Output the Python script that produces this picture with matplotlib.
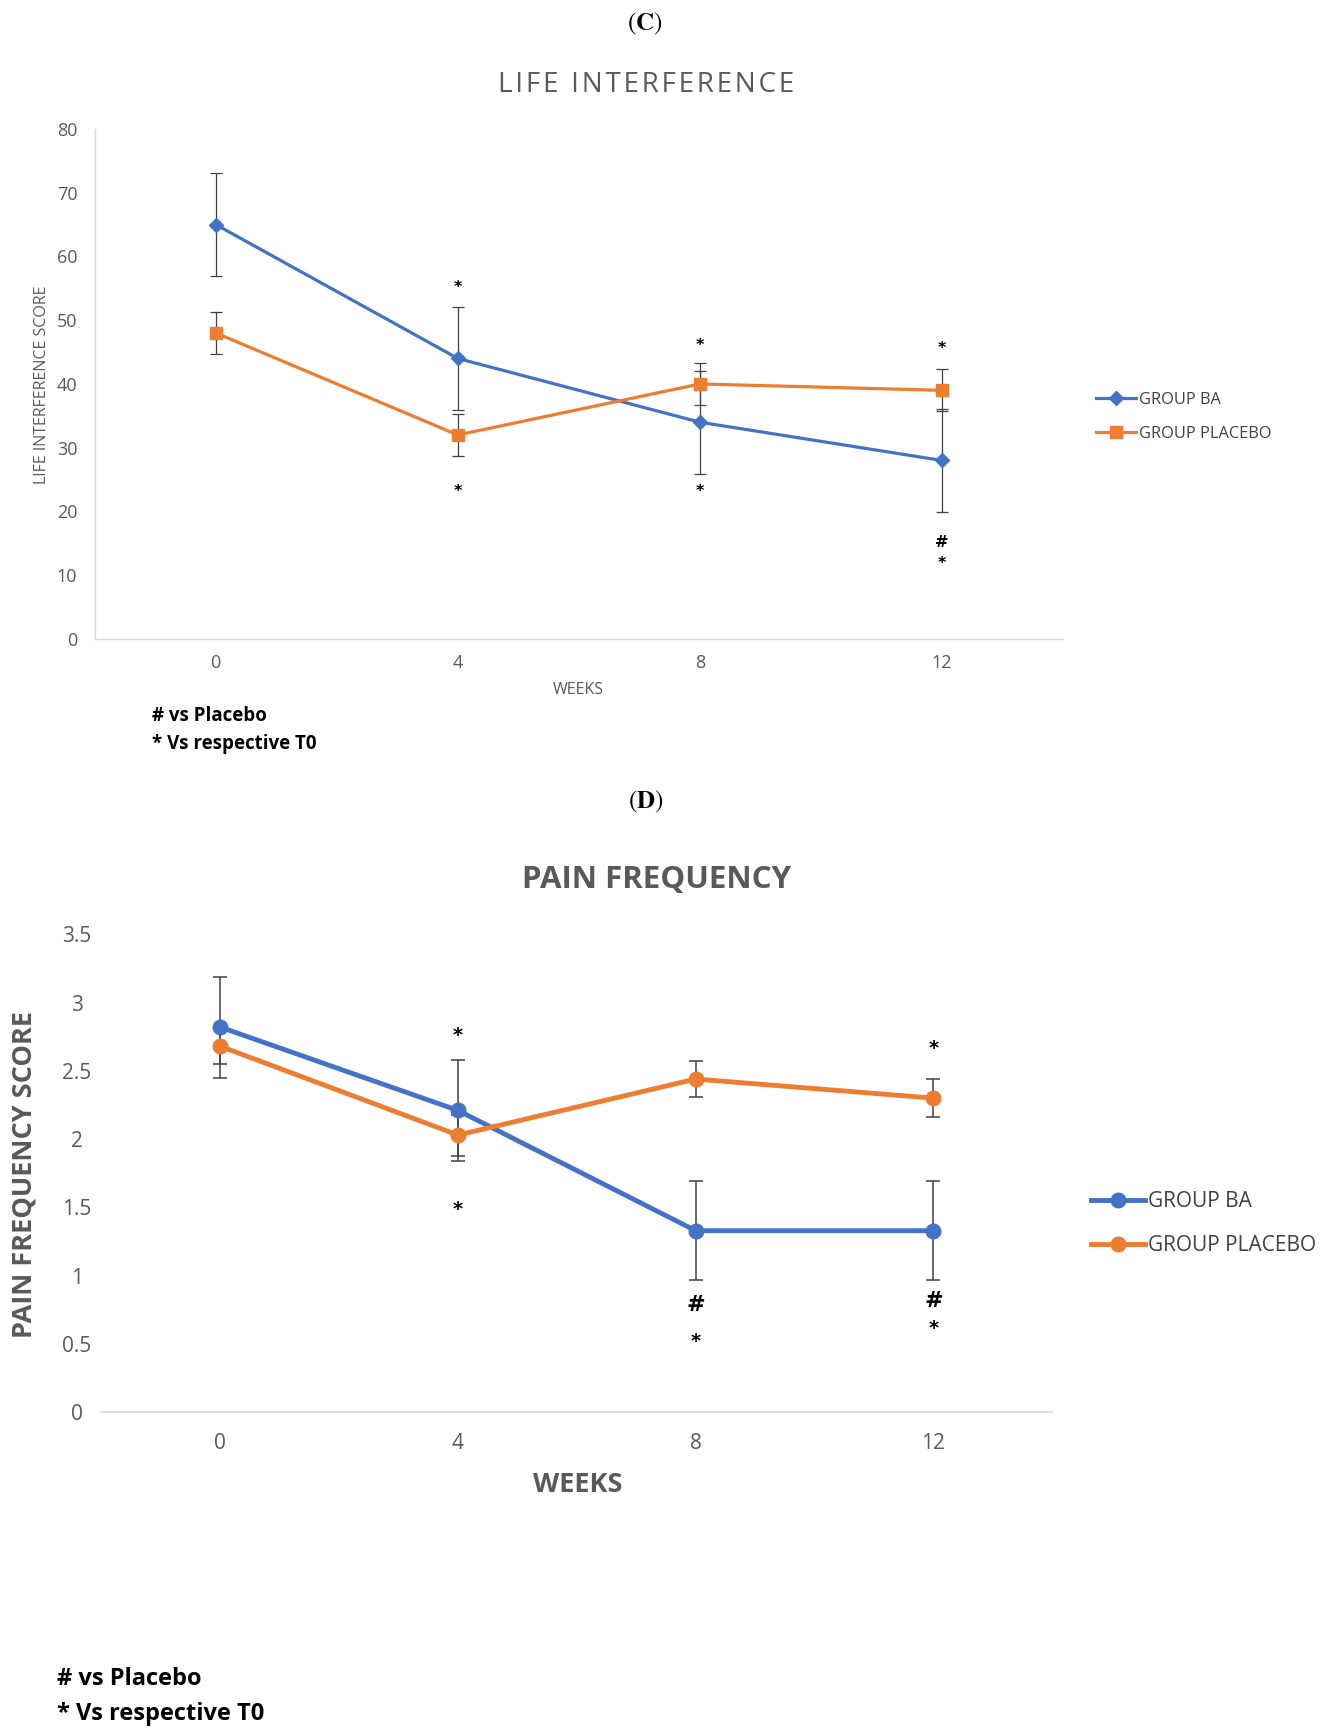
import matplotlib
matplotlib.use("Agg")
import matplotlib.pyplot as plt
import matplotlib.transforms as mtransforms
import numpy as np

plt.rcParams['mathtext.fontset'] = 'stix'

weeks = ['0', '4', '8', '12']
groups = ['GROUP BA', 'GROUP PLACEBO']

# (C) life interference
c_ba = [65, 44, 34, 28]
c_ba_err = [8.1, 8.1, 8.1, 8.1]
c_pl = [48, 32, 40, 39]
c_pl_err = [3.3, 3.3, 3.3, 3.3]
c_marks_x = [1, 1, 2, 2, 3, 3, 3]
c_marks_y = [55.9, 23.9, 46.8, 23.9, 46.2, 15.9, 12.6]
c_marks_s = ['*', '*', '*', '*', '*', '#', '*']

# (D) pain frequency
d_ba = [2.82, 2.21, 1.33, 1.33]
d_ba_err = [0.37, 0.37, 0.36, 0.36]
d_pl = [2.68, 2.03, 2.44, 2.30]
d_pl_err = [0.13, 0.15, 0.13, 0.14]
d_marks_x = [1, 1, 2, 2, 3, 3, 3]
d_marks_y = [2.79, 1.52, 0.82, 0.55, 2.70, 0.85, 0.65]
d_marks_s = ['*', '*', '#', '*', '*', '#', '*']

blue = '#4472C4'
orange = '#ED7D31'
grey_txt = '#595959'
axis_grey = '#D9D9D9'
err_col = '#404040'

W, H = 1332, 1728
fig = plt.figure(figsize=(W / 100, H / 100), dpi=100)
x = np.arange(len(weeks))
hair = '\u200a'

# ---------------- panel C ----------------
axc = fig.add_axes([94.7 / W, 1 - 639 / H, 968.3 / W, 510.1 / H])
axc.errorbar(x, c_ba, yerr=c_ba_err, fmt='none', ecolor=err_col, elinewidth=0.9, capsize=4, capthick=0.9, zorder=2)
axc.errorbar(x, c_pl, yerr=c_pl_err, fmt='none', ecolor=err_col, elinewidth=0.9, capsize=4, capthick=0.9, zorder=2)
axc.plot(x, c_ba, color=blue, lw=2.3, marker='D', ms=7, label=groups[0], zorder=3)
axc.plot(x, c_pl, color=orange, lw=2.3, marker='s', ms=9, label=groups[1], zorder=3)
down_c = mtransforms.ScaledTranslation(0, -4.5 / 100, fig.dpi_scale_trans)
for xi, yi, s in zip(c_marks_x, c_marks_y, c_marks_s):
    axc.text(xi, yi, s, ha='center', va='center', fontsize=11.5, fontweight='bold',
             family='DejaVu Sans', color='black', transform=axc.transData + down_c)
axc.set_xlim(-0.5, 3.5)
axc.set_ylim(0, 80)
axc.set_yticks(range(0, 81, 10))
axc.set_xticks(x)
axc.set_xticklabels(weeks)
axc.tick_params(length=0, labelsize=13, labelcolor=grey_txt)
axc.tick_params(axis='y', pad=12.5)
axc.tick_params(axis='x', pad=11)
for lab in axc.get_xticklabels() + axc.get_yticklabels():
    lab.set_family('Open Sans')
for sp in ['top', 'right']:
    axc.spines[sp].set_visible(False)
for sp in ['left', 'bottom']:
    axc.spines[sp].set_color(axis_grey)
    axc.spines[sp].set_linewidth(1)
leg = axc.legend(loc='center left', bbox_to_anchor=(1.034, 0.436), frameon=False,
                 borderaxespad=0, borderpad=0, handlelength=2.45, handletextpad=0.2,
                 labelspacing=1.1, prop={'family': 'Open Sans', 'size': 11.8})
for t in leg.get_texts():
    t.set_color('#404040')

title_c = 'LIFE INTERFERENCE'
fig.text(644.5 / W, 1 - 24 / H, r'$(\mathbf{C})$', ha='center', va='center', fontsize=18)
fig.text(645.6 / W, 1 - 85 / H, hair.join(title_c), ha='center', va='center',
         fontsize=20, family=['Open Sans', 'DejaVu Sans'], color=grey_txt)
fig.text(41.9 / W, 1 - 384.5 / H, 'LIFE INTERFERENCE SCORE', rotation=90, ha='center', va='center',
         fontsize=11.5, family='Open Sans', color=grey_txt)
fig.text(578.4 / W, 1 - 689.7 / H, 'WEEKS', ha='center', va='center', fontsize=11.5,
         family='Open Sans', color=grey_txt)
fig.text(152 / W, 1 - 716 / H, '# vs Placebo', ha='left', va='center', fontsize=13.5,
         family='Open Sans', fontweight='bold', color='black')
fig.text(152 / W, 1 - 743.6 / H, '* Vs respective T0', ha='left', va='center', fontsize=13.5,
         family='Open Sans', fontweight='bold', color='black')

# ---------------- panel D ----------------
axd = fig.add_axes([101.4 / W, 1 - 1412.4 / H, 950.8 / W, 478.2 / H])
axd.errorbar(x, d_ba, yerr=d_ba_err, fmt='none', ecolor=err_col, elinewidth=1.1, capsize=5, capthick=1.1, zorder=2)
axd.errorbar(x, d_pl, yerr=d_pl_err, fmt='none', ecolor=err_col, elinewidth=1.1, capsize=5, capthick=1.1, zorder=2)
axd.plot(x, d_ba, color=blue, lw=3.5, marker='o', ms=10.5, label=groups[0], zorder=3)
axd.plot(x, d_pl, color=orange, lw=3.5, marker='o', ms=10.5, label=groups[1], zorder=3)
down_d = mtransforms.ScaledTranslation(0, -4.5 / 100, fig.dpi_scale_trans)
for xi, yi, s in zip(d_marks_x, d_marks_y, d_marks_s):
    axd.text(xi, yi, s, ha='center', va='center', fontsize=16 if s == '#' else 14,
             fontweight='bold', family='DejaVu Sans', color='black', transform=axd.transData + down_d)
axd.set_xlim(-0.5, 3.5)
axd.set_ylim(0, 3.5)
axd.set_yticks(np.arange(0, 3.51, 0.5))
axd.set_yticklabels(['0', '0.5', '1', '1.5', '2', '2.5', '3', '3.5'])
axd.set_xticks(x)
axd.set_xticklabels(weeks)
axd.tick_params(length=0, labelsize=15, labelcolor=grey_txt)
axd.tick_params(axis='y', pad=17.5)
axd.tick_params(axis='x', pad=15)
for lab in axd.get_yticklabels():
    lab.set_horizontalalignment('center')
for lab in axd.get_xticklabels() + axd.get_yticklabels():
    lab.set_family('Open Sans')
for sp in ['top', 'right', 'left']:
    axd.spines[sp].set_visible(False)
axd.spines['bottom'].set_color(axis_grey)
axd.spines['bottom'].set_linewidth(1.2)
leg = axd.legend(loc='center left', bbox_to_anchor=(1.0405, 0.395), frameon=False,
                 borderaxespad=0, borderpad=0, handlelength=2.6, handletextpad=0.15,
                 labelspacing=1.1, prop={'family': 'Open Sans', 'size': 15})
for t in leg.get_texts():
    t.set_color('#404040')

fig.text(645.6 / W, 1 - 802 / H, r'$(\mathbf{D})$', ha='center', va='center', fontsize=18)
fig.text(656.6 / W, 1 - 880.3 / H, 'PAIN FREQUENCY', ha='center', va='center', fontsize=22.5,
         family='Open Sans', fontweight='bold', color=grey_txt)
fig.text(24.2 / W, 1 - 1174 / H, 'PAIN FREQUENCY SCORE', rotation=90, ha='center', va='center',
         fontsize=19.5, family='Open Sans', fontweight='bold', color=grey_txt)
fig.text(577.3 / W, 1 - 1485 / H, 'WEEKS', ha='center', va='center', fontsize=19.5,
         family='Open Sans', fontweight='bold', color=grey_txt)
fig.text(57.3 / W, 1 - 1679 / H, '# vs Placebo', ha='left', va='center', fontsize=17,
         family='Open Sans', fontweight='bold', color='black')
fig.text(57.3 / W, 1 - 1714 / H, '* Vs respective T0', ha='left', va='center', fontsize=17,
         family='Open Sans', fontweight='bold', color='black')

fig.savefig('out.png', dpi=100, facecolor='white')
